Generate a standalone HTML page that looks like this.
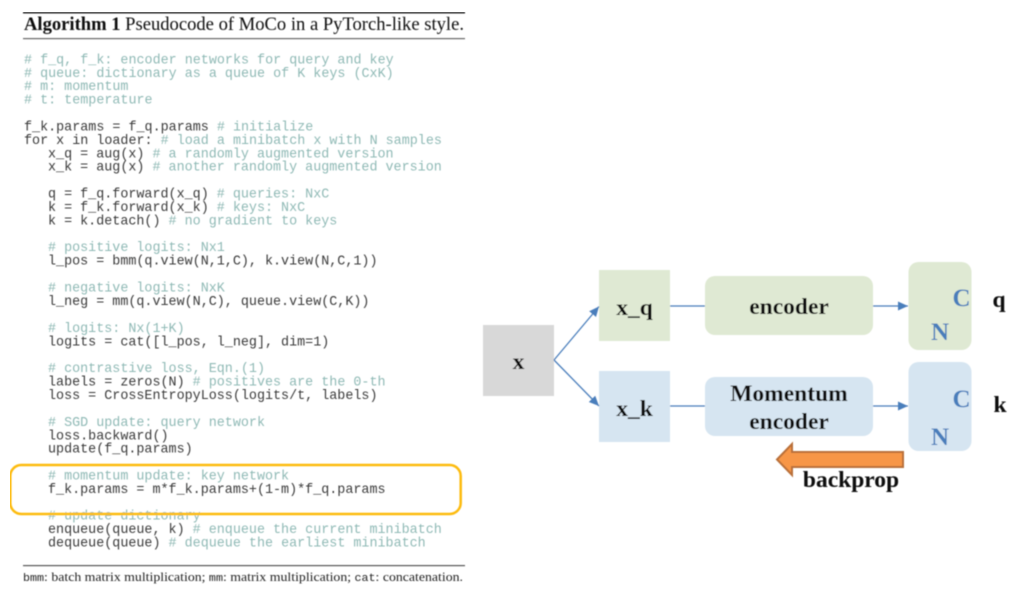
<!DOCTYPE html>
<html>
<head>
<meta charset="utf-8">
<style>
html,body{margin:0;padding:0;background:#fff;width:1024px;height:598px;overflow:hidden}
svg{display:block}
.c text{font-family:"Liberation Mono",monospace;font-size:13.4px;fill:#3a3a3a;white-space:pre}
.c text.g,.c tspan.g{fill:#8fb9b5}
.s{font-family:"Liberation Serif",serif}
.b{font-family:"Liberation Serif",serif;font-weight:bold;fill:#0a0a0a;text-anchor:middle;font-size:23.5px}
.d{font-family:"Liberation Serif",serif;font-weight:bold;fill:#4a7ebb;text-anchor:middle;font-size:25px}
</style>
</head>
<body>
<svg width="1024" height="598" viewBox="0 0 1024 598" xmlns="http://www.w3.org/2000/svg">
<defs>
<filter id="f" x="0" y="0" width="100%" height="100%"><feGaussianBlur stdDeviation="0.45"/></filter>
<marker id="a" markerUnits="userSpaceOnUse" markerWidth="11" markerHeight="10" refX="10" refY="4.5" orient="auto"><path d="M0 0L10 4.5L0 9z" fill="#4a7ebb"/></marker>
</defs>
<g filter="url(#f)">
<rect x="23" y="12" width="442" height="1.5" fill="#222"/>
<rect x="23" y="38" width="442" height="1.2" fill="#666"/>
<text class="s" x="24" y="30" font-size="18.8" fill="#111" textLength="440" lengthAdjust="spacingAndGlyphs"><tspan font-weight="bold">Algorithm 1</tspan> Pseudocode of MoCo in a PyTorch-like style.</text>
<g class="c" transform="translate(0,0.16) scale(1,0.9975)">
<text x="24" y="63.3" class="g"># f_q, f_k: encoder networks for query and key</text>
<text x="24" y="76.8" class="g"># queue: dictionary as a queue of K keys (CxK)</text>
<text x="24" y="90.2" class="g"># m: momentum</text>
<text x="24" y="103.7" class="g"># t: temperature</text>
<text x="24" y="130.6">f_k.params = f_q.params <tspan class="g"># initialize</tspan></text>
<text x="24" y="144.1">for x in loader: <tspan class="g"># load a minibatch x with N samples</tspan></text>
<text x="48" y="157.5">x_q = aug(x) <tspan class="g"># a randomly augmented version</tspan></text>
<text x="48" y="171">x_k = aug(x) <tspan class="g"># another randomly augmented version</tspan></text>
<text x="48" y="197.9">q = f_q.forward(x_q) <tspan class="g"># queries: NxC</tspan></text>
<text x="48" y="211.4">k = f_k.forward(x_k) <tspan class="g"># keys: NxC</tspan></text>
<text x="48" y="224.8">k = k.detach() <tspan class="g"># no gradient to keys</tspan></text>
<text x="48" y="251.7" class="g"># positive logits: Nx1</text>
<text x="48" y="265.2">l_pos = bmm(q.view(N,1,C), k.view(N,C,1))</text>
<text x="48" y="292.1" class="g"># negative logits: NxK</text>
<text x="48" y="305.6">l_neg = mm(q.view(N,C), queue.view(C,K))</text>
<text x="48" y="332.5" class="g"># logits: Nx(1+K)</text>
<text x="48" y="346">logits = cat([l_pos, l_neg], dim=1)</text>
<text x="48" y="372.9" class="g"># contrastive loss, Eqn.(1)</text>
<text x="48" y="386.3">labels = zeros(N) <tspan class="g"># positives are the 0-th</tspan></text>
<text x="48" y="399.8">loss = CrossEntropyLoss(logits/t, labels)</text>
<text x="48" y="426.7" class="g"># SGD update: query network</text>
<text x="48" y="440.2">loss.backward()</text>
<text x="48" y="453.6">update(f_q.params)</text>
<text x="48" y="480.6" class="g"># momentum update: key network</text>
<text x="48" y="494">f_k.params = m*f_k.params+(1-m)*f_q.params</text>
<text x="48" y="520.9" class="g"># update dictionary</text>
<text x="48" y="534.4">enqueue(queue, k) <tspan class="g"># enqueue the current minibatch</tspan></text>
<text x="48" y="547.9">dequeue(queue) <tspan class="g"># dequeue the earliest minibatch</tspan></text>
</g>
<rect x="23" y="565" width="442" height="1.2" fill="#555"/>
<text x="23" y="581" font-size="13" fill="#222" class="s" textLength="440" lengthAdjust="spacingAndGlyphs"><tspan font-family="Liberation Mono" font-size="11">bmm</tspan>: batch matrix multiplication; <tspan font-family="Liberation Mono" font-size="11">mm</tspan>: matrix multiplication; <tspan font-family="Liberation Mono" font-size="11">cat</tspan>: concatenation.</text>
<rect x="10.3" y="465" width="450.4" height="49" rx="11" fill="none" stroke="#fdbb10" stroke-width="2.5"/>

<rect x="483" y="325" width="71" height="71" fill="#d8d8d8"/>
<rect x="599" y="270" width="71" height="71" fill="#dfe9d3"/>
<rect x="599" y="371" width="71" height="71" fill="#d6e5f1"/>
<rect x="705" y="276" width="168" height="59" rx="10" fill="#dfe9d3"/>
<rect x="705" y="377" width="168" height="59" rx="10" fill="#d6e5f1"/>
<rect x="908.500" y="262" width="63" height="88" rx="10" fill="#dfe9d3"/>
<rect x="908.500" y="362" width="63" height="89" rx="10" fill="#d6e5f1"/>

<g stroke="#4a7ebb" stroke-width="1.300" fill="none">
<line x1="554" y1="360" x2="599" y2="306.500" marker-end="url(#a)"/>
<line x1="554" y1="360" x2="599" y2="406" marker-end="url(#a)"/>
<line x1="670" y1="306" x2="705" y2="306"/>
<line x1="670" y1="406" x2="705" y2="406"/>
<line x1="873" y1="306" x2="908" y2="306" marker-end="url(#a)"/>
<line x1="873" y1="406" x2="908" y2="406" marker-end="url(#a)"/>
</g>
<text class="b" x="518.500" y="369">x</text>
<text class="b" x="634.500" y="315">x_q</text>
<text class="b" x="634.500" y="416">x_k</text>
<text class="b" x="789" y="314">encoder</text>
<text class="b" x="789" y="401">Momentum</text>
<text class="b" x="789" y="429">encoder</text>
<text class="d" x="961.500" y="306">C</text>
<text class="d" x="940" y="340">N</text>
<text class="d" x="961.500" y="407">C</text>
<text class="d" x="940" y="445">N</text>
<text class="b" x="999" y="307">q</text>
<text class="b" x="1000" y="412">k</text>
<path d="M777 459.500L792 444V452H903V467H792V475z" fill="#f79646" stroke="#b9703a" stroke-width="2"/>
<text class="b" x="851" y="487">backprop</text>
</g>
</svg>
</body>
</html>
